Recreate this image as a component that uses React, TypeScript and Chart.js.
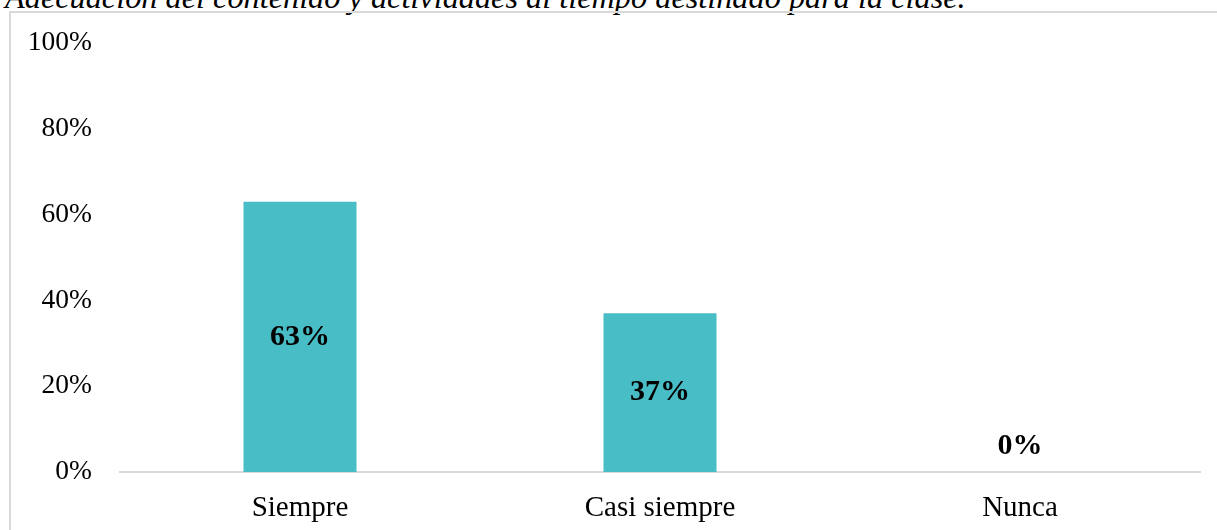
import React, { useEffect, useRef } from "react";
import { Chart, registerables } from "chart.js";

Chart.register(...registerables);

const titleText = "Adecuación del contenido y actividades al tiempo destinado para la clase.";
const categories = ["Siempre", "Casi siempre", "Nunca"];
const values = [63, 37, 0];
const yTicks = [0, 20, 40, 60, 80, 100];

const BAR_COLOR = "#49BDC6";
const FONT = "'Liberation Serif', 'Times New Roman', serif";

const labelPlugin = {
  id: "barLabels",
  afterDatasetsDraw(chart: any) {
    const { ctx } = chart;
    const meta = chart.getDatasetMeta(0);
    ctx.save();
    ctx.font = `bold 30px ${FONT}`;
    ctx.fillStyle = "#000";
    ctx.textAlign = "center";
    ctx.textBaseline = "middle";
    meta.data.forEach((bar: any, i: number) => {
      const v = values[i];
      const y = v > 0 ? (bar.y + bar.base) / 2 : bar.base - 26;
      ctx.fillText(`${v}%`, bar.x, y);
    });
    ctx.restore();
  },
};

export default function App() {
  const ref = useRef<HTMLCanvasElement>(null);
  useEffect(() => {
    document.body.style.margin = "0";
    const chart = new Chart(ref.current!, {
      type: "bar",
      data: {
        labels: categories,
        datasets: [
          {
            data: values,
            backgroundColor: BAR_COLOR,
            barPercentage: 0.314,
            categoryPercentage: 1,
          },
        ],
      },
      options: {
        animation: false,
        responsive: false,
        maintainAspectRatio: false,
        layout: { padding: { top: 30, right: 17, bottom: 0, left: 0 } },
        plugins: { legend: { display: false }, tooltip: { enabled: false } },
        scales: {
          x: {
            grid: { display: false },
            border: { display: true, color: "#d9d9d9", width: 2 },
            ticks: { color: "#000", font: { family: FONT, size: 29 }, padding: 11 },
            afterFit: (s: any) => {
              s.height = 58;
              s.paddingLeft = 0;
              s.paddingRight = 0;
            },
          },
          y: {
            min: 0,
            max: 100,
            afterBuildTicks: (s: any) => { s.ticks = yTicks.map((v) => ({ value: v })); },
            grid: { display: false, drawTicks: false },
            border: { display: false },
            ticks: {
              color: "#000",
              font: { family: FONT, size: 27.5 },
              padding: 28,
              callback: (v: any) => `${v}%`,
            },
            afterFit: (s: any) => {
              s.width = 109;
              s.paddingTop = 0;
              s.paddingBottom = 0;
            },
          },
        },
      },
      plugins: [labelPlugin],
    });
    return () => chart.destroy();
  }, []);

  return (
    <div style={{ position: "fixed", left: 0, top: 0, width: 1217, height: 530, overflow: "hidden", background: "#fff" }}>
      <div
        style={{
          position: "absolute",
          left: 5,
          top: -21,
          fontFamily: FONT,
          fontStyle: "italic",
          fontSize: 32.3,
          lineHeight: "36px",
          whiteSpace: "nowrap",
          color: "#000",
        }}
      >
        {titleText}
      </div>
      <div
        style={{
          position: "absolute",
          left: 9,
          top: 11,
          width: 1220,
          height: 530,
          borderTop: "2px solid #d9d9d9",
          borderLeft: "2px solid #d9d9d9",
        }}
      >
        <canvas ref={ref} width={1206} height={517} style={{ display: "block" }} />
      </div>
    </div>
  );
}
